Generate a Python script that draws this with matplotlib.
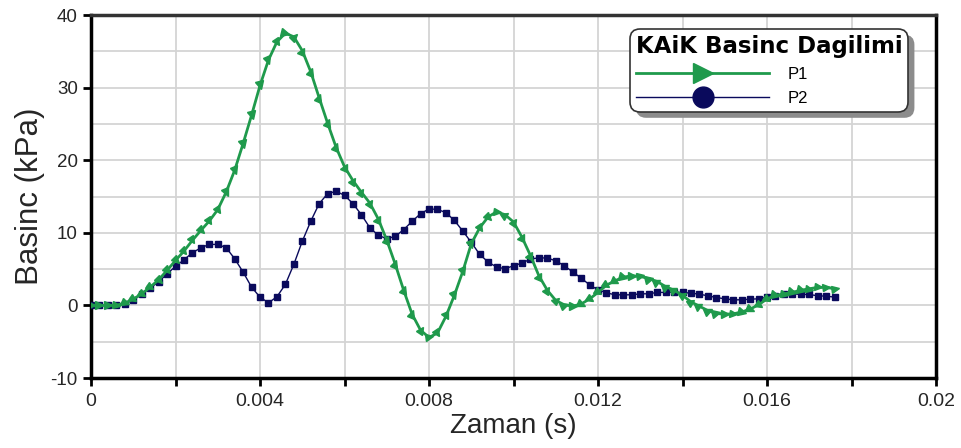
import numpy as np
import matplotlib
matplotlib.use("Agg")
import matplotlib.pyplot as plt
from matplotlib.markers import MarkerStyle
from matplotlib.transforms import Affine2D, IdentityTransform
from matplotlib.lines import Line2D
from matplotlib.patches import FancyBboxPatch

# ---------------- data ----------------
time_step = 0.0002  # s, sampling step of both series
p1 = [0, 0, 0, 0.05, 0.32, 0.87, 1.61, 2.53, 3.54, 4.83,
      6.2, 7.49, 8.97, 10.34, 11.63, 13.2, 15.63, 18.62, 22.3, 26.2,
      30.3, 33.8, 36.3, 37.5, 37.0, 35.1, 32.2, 28.6, 25.1, 21.8,
      19.1, 17.2, 15.6, 14.1, 11.9, 9.0, 5.7, 2.1, -1.2, -3.4,
      -4.4, -3.8, -1.5, 1.4, 4.7, 8.5, 10.7, 12.2, 12.9, 12.5,
      11.5, 9.4, 6.9, 4.1, 2.1, 0.7, 0.1, -0.1, 0.2, 0.9,
      1.8, 2.8, 3.4, 3.9, 4.1, 4.0, 3.7, 3.3, 2.6, 2.1,
      1.4, 0.5, -0.1, -0.7, -1.1, -1.2, -1.15, -0.9, -0.5, 0.1,
      0.9, 1.4, 1.6, 1.8, 2.1, 2.3, 2.5, 2.5, 2.3]
p2 = [0, 0, 0, 0, 0.23, 0.78, 1.52, 2.44, 3.22, 4.37,
      5.38, 6.30, 7.26, 7.95, 8.41, 8.41, 7.95, 6.44, 4.6, 2.53,
      1.15, 0.37, 1.2, 2.9, 5.66, 8.83, 11.59, 14.02, 15.4, 15.72,
      15.17, 14.02, 12.5, 10.71, 9.66, 9.2, 9.52, 10.44, 11.59, 12.64,
      13.29, 13.24, 12.78, 11.72, 10.25, 8.7, 7.03, 5.98, 5.29, 5.06,
      5.47, 5.84, 6.39, 6.57, 6.53, 6.16, 5.47, 4.64, 3.77, 2.85,
      2.16, 1.75, 1.47, 1.47, 1.47, 1.61, 1.61, 1.8, 1.8, 1.84,
      1.79, 1.7, 1.56, 1.33, 1.1, 0.92, 0.78, 0.78, 0.87, 0.92,
      1.15, 1.33, 1.52, 1.6, 1.52, 1.52, 1.33, 1.29, 1.15]
t = np.arange(len(p1)) * time_step

series_names = ["P1", "P2"]
legend_title = "KAiK Basinc Dagilimi"
x_ticks = [0, 0.004, 0.008, 0.012, 0.016, 0.02]
x_tick_labels = ["0", "0.004", "0.008", "0.012", "0.016", "0.02"]
y_ticks = [-10, 0, 10, 20, 30, 40]
xlabel = "Zaman (s)"
ylabel = "Basinc (kPa)"

GREEN = "#1f9a4c"
NAVY = "#0a0a5c"

plt.rcParams["font.family"] = ["Liberation Sans", "DejaVu Sans"]

fig = plt.figure(figsize=(9.61, 4.48), dpi=100)
ax = fig.add_axes([0.0947, 0.156, 0.8793, 0.8105])
ax.set_xlim(0, 0.02)
ax.set_ylim(-10, 40)

# grid
ax.set_xticks(np.arange(0, 0.02001, 0.002), minor=True)
ax.set_yticks(np.arange(-10, 40.01, 5), minor=True)
ax.grid(True, which="both", color="#d4d4d4", lw=1.3, zorder=0)
ax.set_axisbelow(True)

ax.set_xticks(x_ticks)
ax.set_xticklabels(x_tick_labels, fontsize=14, color="#262626")
ax.set_yticks(y_ticks)
ax.set_yticklabels([str(v) for v in y_ticks], fontsize=13.5, color="#262626")
ax.tick_params(axis="both", which="major", direction="out", length=6, width=2, color="black")
ax.tick_params(axis="x", which="major", pad=5)
ax.tick_params(axis="x", which="minor", direction="out", length=6, width=2, color="black")
ax.tick_params(axis="y", which="minor", length=0)

for s in ax.spines.values():
    s.set_linewidth(2.5)
    s.set_color("black")
ax.spines["top"].set_color("#333333")

ax.set_xlabel(xlabel, fontsize=20, labelpad=2, color="#262626")
ax.set_ylabel(ylabel, fontsize=22.5, labelpad=4, color="#262626")

# series
ax.plot(t, p2, color=NAVY, lw=1.0, marker="s", ms=4.5, mfc=NAVY, mec=NAVY, zorder=3)
ax.plot(t, p1, color=GREEN, lw=2.0, zorder=4)

# rotated triangle markers following the curve
disp = ax.transData.transform(np.column_stack([t, p1]))
for i in range(len(p1)):
    a = max(i - 1, 0)
    b = min(i + 1, len(p1) - 1)
    dx = disp[b, 0] - disp[a, 0]
    dy = disp[b, 1] - disp[a, 1]
    theta = np.degrees(np.arctan2(dy, dx))
    m = MarkerStyle(">", transform=Affine2D().rotate_deg(-theta))
    ax.plot(t[i], p1[i], linestyle="none", marker=m, ms=5.5, color=GREEN, zorder=5)

handles = [
    Line2D([], [], color=GREEN, lw=2, marker=">", ms=14),
    Line2D([], [], color=NAVY, lw=1, marker="o", ms=15),
]
leg = ax.legend(handles, series_names, title=legend_title,
                loc="upper left", bbox_to_anchor=(0.638, 0.962), borderaxespad=0,
                fontsize=12, handlelength=8.0, handletextpad=1.1,
                labelspacing=0.55, borderpad=0.35,
                fancybox=True, shadow=False,
                framealpha=1, edgecolor="#333333",
                title_fontproperties={"weight": "bold", "size": 16.5, "family": "DejaVu Sans"})
leg.set_zorder(10)
frame = leg.get_frame()
frame.set_linewidth(1.2)
frame.set_boxstyle("round,pad=0,rounding_size=0.6")
leg._legend_box.align = "left"

# offset drop shadow behind the legend box
fig.canvas.draw()
bb = frame.get_window_extent()
shadow = FancyBboxPatch((bb.x0 + 6, bb.y0 - 6), bb.width, bb.height,
                        boxstyle="round,pad=0,rounding_size=0.6",
                        mutation_scale=frame.get_mutation_scale(),
                        transform=IdentityTransform(), facecolor="#8c8c8c",
                        edgecolor="none", zorder=9, clip_on=False)
ax.add_patch(shadow)

fig.savefig("out.png", dpi=100)
